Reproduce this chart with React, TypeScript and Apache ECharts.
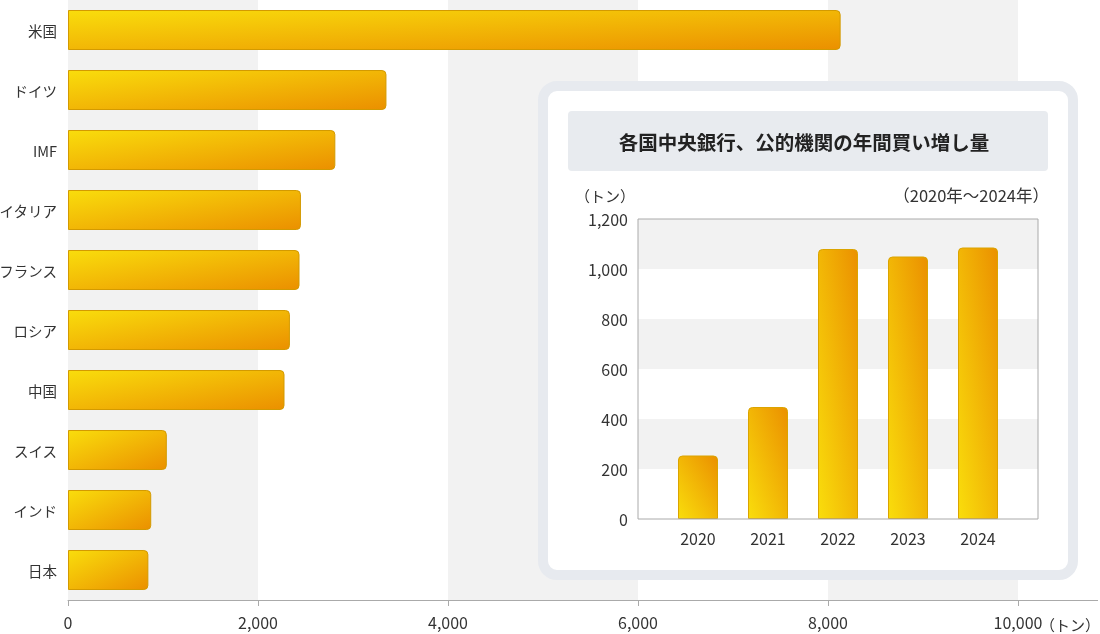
import React, { useEffect, useRef } from "react";
import * as echarts from "echarts";

const categories = ["米国", "ドイツ", "IMF", "イタリア", "フランス", "ロシア", "中国", "スイス", "インド", "日本"];
const holdings = [8133, 3352, 2814, 2452, 2437, 2336, 2279, 1040, 876, 846];
const xTicks = [0, 2000, 4000, 6000, 8000, 10000];

const years = ["2020", "2021", "2022", "2023", "2024"];
const purchases = [254, 448, 1080, 1050, 1086];

const insetTitle = "各国中央銀行、公的機関の年間買い増し量";
const insetUnit = "（トン）";
const insetPeriod = "（2020年～2024年）";
const mainUnit = "（トン）";

const FONT = "'Noto Sans CJK JP', 'Noto Sans', sans-serif";
const TEXT = "#333333";

export default function App() {
  const ref = useRef<HTMLDivElement>(null);
  useEffect(() => {
    if (!ref.current) return;
    const chart = echarts.init(ref.current, undefined, { renderer: "svg" });
    const hGrad = new echarts.graphic.LinearGradient(0, 0, 1, 1, [
      { offset: 0, color: "#f9dd0c" },
      { offset: 1, color: "#eb9000" },
    ]);
    const vGrad = new echarts.graphic.LinearGradient(0, 1, 1, 0, [
      { offset: 0, color: "#f9dd0c" },
      { offset: 1, color: "#eb9000" },
    ]);
    const fmt = (v: number) => v.toLocaleString("en-US");
    chart.setOption({
      animation: false,
      textStyle: { fontFamily: FONT },
      grid: [
        { left: 68, right: 82, top: 0, bottom: 34, containLabel: false, outerBoundsMode: "none" },
        {
          left: 638, top: 219, width: 400, height: 300, show: true, outerBoundsMode: "none",
          borderColor: "#aaaaaa", borderWidth: 1, backgroundColor: "transparent", z: 13,
        },
        { left: 663, top: 219, width: 350, height: 300, outerBoundsMode: "none" },
      ],
      xAxis: [
        {
          gridIndex: 0, type: "value", min: xTicks[0], max: xTicks[xTicks.length - 1], interval: 2000,
          axisLine: { show: true, lineStyle: { color: "#aaaaaa" } },
          axisTick: { show: true, length: 6, lineStyle: { color: "#aaaaaa" } },
          axisLabel: { color: TEXT, fontSize: 16, margin: 14, formatter: fmt },
          splitLine: { show: false },
          splitArea: { show: true, areaStyle: { color: ["#f2f2f2", "#ffffff"] } },
        },
        {
          gridIndex: 1, type: "value", min: 0, max: 1, show: false,
          splitLine: { show: false },
        },
        {
          gridIndex: 2, type: "category", data: years, z: 12,
          axisLine: { show: false }, axisTick: { show: false },
          axisLabel: { color: TEXT, fontSize: 16, margin: 11 },
        },
      ],
      yAxis: [
        {
          gridIndex: 0, type: "category", data: categories, inverse: true,
          axisLine: { show: false }, axisTick: { show: false },
          axisLabel: { color: TEXT, fontSize: 14.5, margin: 11 },
        },
        {
          gridIndex: 1, type: "value", min: 0, max: 1200, interval: 200, z: 11,
          axisLine: { show: false }, axisTick: { show: false },
          axisLabel: { color: TEXT, fontSize: 16, margin: 10, formatter: fmt },
          splitLine: { show: false },
          splitArea: { show: true, areaStyle: { color: ["#ffffff", "#f2f2f2"] } },
        },
        {
          gridIndex: 2, type: "value", min: 0, max: 1200, interval: 200, show: false,
          splitLine: { show: false },
        },
      ],
      series: [
        {
          type: "bar", xAxisIndex: 0, yAxisIndex: 0, data: holdings, barWidth: 40,
          itemStyle: { color: hGrad, borderColor: "#d39a00", borderWidth: 1, borderRadius: [0, 4, 4, 0] },
        },
        {
          type: "bar", xAxisIndex: 2, yAxisIndex: 2, data: purchases, barWidth: 40, z: 12,
          itemStyle: { color: vGrad, borderColor: "#dba400", borderWidth: 1, borderRadius: [4, 4, 0, 0] },
        },
      ],
      graphic: [
        {
          type: "line", z: 3, silent: true,
          shape: { x1: 1018, y1: 600.5, x2: 1098, y2: 600.5 },
          style: { stroke: "#aaaaaa", lineWidth: 1 },
        },
        {
          type: "text", z: 3, x: 1040, y: 624, silent: true,
          style: { text: mainUnit, fill: TEXT, fontSize: 15, fontFamily: FONT, align: "left", verticalAlign: "middle" },
        },
        {
          type: "rect", z: 5, silent: true,
          shape: { x: 543, y: 86, width: 530, height: 489, r: 14 },
          style: { fill: "#ffffff", stroke: "#e7eaef", lineWidth: 10 },
        },
        {
          type: "rect", z: 6, silent: true,
          shape: { x: 568, y: 111, width: 480, height: 60, r: 4 },
          style: { fill: "#e8ebef" },
        },
        {
          type: "text", z: 7, x: 804, y: 141, silent: true,
          style: { text: insetTitle, fill: "#222222", fontSize: 19.5, fontWeight: "bold", fontFamily: FONT, align: "center", verticalAlign: "middle" },
        },
        {
          type: "text", z: 7, x: 575, y: 195, silent: true,
          style: { text: insetUnit, fill: TEXT, fontSize: 15, fontFamily: FONT, align: "left", verticalAlign: "middle" },
        },
        {
          type: "text", z: 7, x: 1049, y: 195, silent: true,
          style: { text: insetPeriod, fill: TEXT, fontSize: 16.5, fontFamily: FONT, align: "right", verticalAlign: "middle" },
        },
      ],
    });
    return () => chart.dispose();
  }, []);
  return <div ref={ref} style={{ position: "fixed", left: 0, top: 0, width: 1100, height: 634 }} />;
}
